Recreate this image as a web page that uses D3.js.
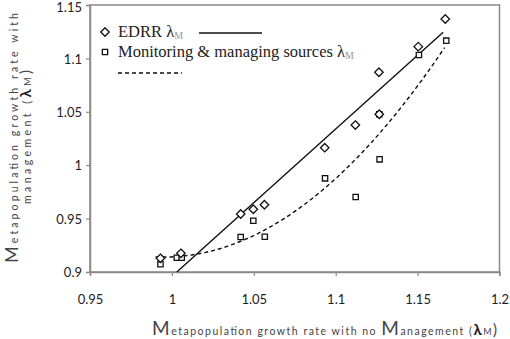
<!DOCTYPE html>
<html>
<head>
<meta charset="utf-8">
<script src="https://cdn.jsdelivr.net/npm/d3@7"></script>
<style>
	body { margin: 0; background: #fff; }
	.tick text { font-family: Lato, "Open Sans", sans-serif; font-size: 13px; fill: #222; }
	.leg { font-family: "Liberation Serif", "Times New Roman", serif; font-size: 16.5px; fill: #222; }
	.ttl { font-family: Lato, "Noto Sans", sans-serif; fill: #444; }
</style>
</head>
<body>
<svg width="510" height="339"></svg>
<script>
	// EDRR (diamonds)
	var edrrX = [0.993, 1.0055, 1.042, 1.0497, 1.0565, 1.0933, 1.112, 1.1266, 1.1264, 1.1504, 1.1669];
	var edrrY = [0.9128, 0.9175, 0.9543, 0.9587, 0.963, 1.0164, 1.0376, 1.0477, 1.087, 1.111, 1.1369];
	// monitoring & managing sources (squares)
	var monX = [0.993, 1.003, 1.006, 1.042, 1.0497, 1.0567, 1.0935, 1.1122, 1.1268, 1.1266, 1.1508, 1.1675];
	var monY = [0.9072, 0.9134, 0.9134, 0.9328, 0.948, 0.933, 0.9877, 0.9702, 1.0055, 1.0477, 1.1032, 1.1166];

	// trend lines
	var edrrFit = [1.38, 1.003, 0.9];          // slope, x0, y0  -> y = y0 + slope*(x-x0)
	var edrrRange = [1.003, 1.1656];
	var monFit = [6.67, 0.995, 0.914];         // a, xv, yv -> y = yv + a*(x-xv)^2
	var monRange = [0.99, 1.1665];

	var xTicks = [0.95, 1, 1.05, 1.1, 1.15, 1.2];
	var yTicks = [0.9, 0.95, 1, 1.05, 1.1, 1.15];

	var svg = d3.select('svg');
	var x = d3.scaleLinear().domain([0.95, 1.2]).range([90, 499.5]);
	var y = d3.scaleLinear().domain([0.9, 1.15]).range([272, 5]);

	// frame
	svg.append('rect')
		.attr('x', 90).attr('y', 5)
		.attr('width', 409.5).attr('height', 267)
		.attr('fill', 'none')
		.attr('stroke', '#8a8a8a')
		.attr('stroke-width', 1.5);

	svg.append('g')
		.attr('transform', 'translate(0,272)')
		.call(d3.axisBottom(x).tickValues(xTicks).tickSize(4).tickPadding(19).tickFormat(d3.format('')));
	svg.append('g')
		.attr('transform', 'translate(90,0)')
		.call(d3.axisLeft(y).tickValues(yTicks).tickSize(4).tickPadding(4).tickFormat(d3.format('')))
		.selectAll('.tick text').attr('dy', function(d) { return d === 1.15 ? '0.5em' : '0.36em'; });
	svg.selectAll('.domain').attr('stroke', '#8a8a8a').attr('stroke-width', 1.5);
	svg.selectAll('.tick line').attr('stroke', '#8a8a8a').attr('stroke-width', 1.2);

	// trend lines
	var line = d3.line().x(function(d) { return x(d[0]); }).y(function(d) { return y(d[1]); });

	var edrrLine = edrrRange.map(function(v) {
		return [v, edrrFit[2] + edrrFit[0] * (v - edrrFit[1])];
	});
	svg.append('path')
		.attr('d', line(edrrLine))
		.attr('fill', 'none').attr('stroke', '#111').attr('stroke-width', 1.4);

	var n = 40;
	var monLine = d3.range(n + 1).map(function(i) {
		var v = monRange[0] + (monRange[1] - monRange[0]) * i / n;
		return [v, monFit[2] + monFit[0] * (v - monFit[1]) * (v - monFit[1])];
	});
	svg.append('path')
		.attr('d', line(monLine))
		.attr('fill', 'none').attr('stroke', '#111').attr('stroke-width', 1.4)
		.attr('stroke-dasharray', '4,3');

	// markers
	var diamond = d3.symbol().type(d3.symbolDiamond2).size(46);
	var square = d3.symbol().type(d3.symbolSquare2).size(36);

	svg.append('g').selectAll('path')
		.data(d3.zip(monX, monY))
		.enter().append('path')
		.attr('d', square)
		.attr('transform', function(d) { return 'translate(' + x(d[0]) + ',' + y(d[1]) + ')'; })
		.attr('fill', '#fff').attr('stroke', '#111').attr('stroke-width', 1.3);

	svg.append('g').selectAll('path')
		.data(d3.zip(edrrX, edrrY))
		.enter().append('path')
		.attr('d', diamond)
		.attr('transform', function(d) { return 'translate(' + x(d[0]) + ',' + y(d[1]) + ')'; })
		.attr('fill', '#fff').attr('stroke', '#111').attr('stroke-width', 1.3);

	// legend
	var leg = svg.append('g');
	leg.append('path').attr('d', diamond).attr('transform', 'translate(105,32)')
		.attr('fill', '#fff').attr('stroke', '#111').attr('stroke-width', 1.3);
	leg.append('path').attr('d', square).attr('transform', 'translate(105,52)')
		.attr('fill', '#fff').attr('stroke', '#111').attr('stroke-width', 1.3);

	var t1 = leg.append('text').attr('class', 'leg').attr('x', 118).attr('y', 37);
	t1.append('tspan').text('EDRR λ');
	t1.append('tspan').attr('font-size', 10).attr('fill', '#999').attr('dy', 2).text('M');
	var t2 = leg.append('text').attr('class', 'leg').attr('x', 118).attr('y', 57);
	t2.append('tspan').text('Monitoring & managing sources λ');
	t2.append('tspan').attr('font-size', 10).attr('fill', '#999').attr('dy', 2).text('M');

	leg.append('line').attr('x1', 199).attr('x2', 262).attr('y1', 33).attr('y2', 33)
		.attr('stroke', '#111').attr('stroke-width', 1.4);
	leg.append('line').attr('x1', 118).attr('x2', 182).attr('y1', 73).attr('y2', 73)
		.attr('stroke', '#111').attr('stroke-width', 1.4).attr('stroke-dasharray', '4,3');

	// axis titles
	function title(sel, parts) {
		parts.forEach(function(p) {
			var s = sel.append('tspan').attr('font-size', p[1]).text(p[0]);
			if (p[2]) s.attr('font-weight', 'bold').attr('fill', '#222');
		});
	}

	var xt = svg.append('text').attr('class', 'ttl')
		.attr('x', 152).attr('y', 335)
		.attr('textLength', 345).attr('lengthAdjust', 'spacing');
	title(xt, [['M', 19], ['etapopulation growth rate with no ', 10.5], ['M', 19], ['anagement (', 10.5], ['λ', 15, true], ['M', 9], [')', 15]]);

	var yt1 = svg.append('text').attr('class', 'ttl')
		.attr('transform', 'translate(18,263) rotate(-90)')
		.attr('textLength', 250).attr('lengthAdjust', 'spacing');
	title(yt1, [['M', 18], ['etapopulation growth rate with', 10.5]]);

	var yt2 = svg.append('text').attr('class', 'ttl')
		.attr('transform', 'translate(31,204) rotate(-90)')
		.attr('textLength', 134).attr('lengthAdjust', 'spacing');
	title(yt2, [['management (', 10.5], ['λ', 15, true], ['M', 9], [')', 15]]);
</script>
</body>
</html>
